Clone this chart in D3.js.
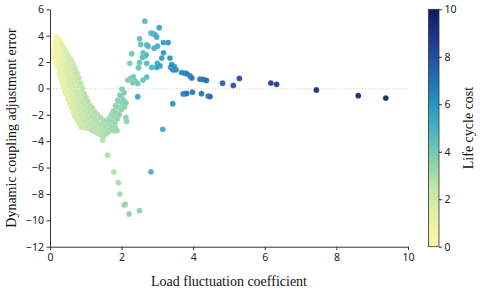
<!DOCTYPE html>
<html>
<head>
<meta charset="utf-8">
<script src="https://cdn.jsdelivr.net/npm/d3@7"></script>
<style>
  body { margin: 0; background: #fff; }
  .tick text { font-family: "Noto Sans", sans-serif; font-size: 10.5px; fill: #222; }
  .domain, .tick line { stroke: #333; }
  .label { font-family: "Liberation Serif", "Times New Roman", serif; font-size: 14px; fill: #111; }
</style>
</head>
<body>
<script>
// x = load fluctuation coefficient, y = dynamic coupling adjustment error, c = life cycle cost
var vBand = [
  [0.10, 2.60, 0.6], [0.12, 2.25, 0.7], [0.11, 2.95, 0.6],
  [0.15, 3.60, 0.7], [0.14, 3.20, 0.6], [0.16, 2.80, 0.8], [0.15, 2.40, 0.7], [0.17, 1.95, 0.8],
  [0.19, 3.90, 0.7], [0.18, 3.40, 0.9], [0.20, 3.05, 0.8], [0.19, 2.55, 0.9], [0.21, 2.10, 0.8], [0.20, 1.70, 0.9],
  [0.23, 3.80, 0.8], [0.24, 3.50, 1.0], [0.22, 3.15, 0.9], [0.25, 2.70, 1.1], [0.23, 2.25, 0.9], [0.24, 1.60, 1.0],
  [0.27, 3.65, 1.0], [0.28, 3.30, 1.2], [0.26, 2.90, 1.0], [0.29, 2.40, 1.1], [0.27, 1.90, 1.0], [0.28, 1.35, 1.1],
  [0.31, 3.45, 1.2], [0.30, 3.00, 1.1], [0.32, 2.60, 1.3], [0.31, 2.10, 1.1], [0.30, 1.60, 1.2], [0.32, 1.10, 1.1],
  [0.35, 3.25, 1.4], [0.36, 2.80, 1.3], [0.34, 2.30, 1.2], [0.37, 1.80, 1.4], [0.35, 1.25, 1.2], [0.36, 0.80, 1.3],
  [0.39, 3.05, 1.6], [0.40, 2.55, 1.5], [0.38, 2.00, 1.3], [0.41, 1.50, 1.5], [0.39, 1.00, 1.3], [0.40, 0.55, 1.4],
  [0.43, 2.85, 1.8], [0.44, 2.40, 1.6], [0.42, 1.80, 1.5], [0.45, 1.30, 1.7], [0.43, 0.70, 1.4], [0.44, 0.30, 1.5],
  [0.47, 2.65, 1.9], [0.48, 2.10, 1.8], [0.46, 1.60, 1.6], [0.49, 1.00, 1.7], [0.47, 0.45, 1.5], [0.48, 0.05, 1.6],
  [0.51, 2.45, 2.0], [0.52, 1.90, 1.9], [0.50, 1.30, 1.7], [0.53, 0.70, 1.8], [0.51, 0.20, 1.6], [0.52, -0.25, 1.7],
  [0.56, 2.25, 2.1], [0.57, 1.65, 2.0], [0.55, 1.00, 1.8], [0.58, 0.40, 1.9], [0.56, -0.20, 1.7], [0.57, -0.60, 1.8],
  [0.61, 2.05, 2.2], [0.62, 1.40, 2.1], [0.60, 0.70, 1.9], [0.63, 0.10, 2.0], [0.61, -0.50, 1.8], [0.62, -0.95, 1.9],
  [0.66, 1.75, 2.3], [0.67, 1.10, 2.2], [0.65, 0.40, 2.0], [0.68, -0.20, 2.1], [0.66, -0.80, 1.9], [0.67, -1.25, 2.0],
  [0.71, 1.45, 2.4], [0.72, 0.80, 2.3], [0.70, 0.10, 2.1], [0.73, -0.50, 2.2], [0.71, -1.10, 2.0], [0.72, -1.55, 2.1],
  [0.76, 1.15, 2.5], [0.77, 0.50, 2.3], [0.75, -0.20, 2.2], [0.78, -0.80, 2.3], [0.76, -1.40, 2.1], [0.77, -1.85, 2.2],
  [0.81, 0.80, 2.5], [0.82, 0.20, 2.4], [0.80, -0.50, 2.3], [0.83, -1.10, 2.4], [0.81, -1.70, 2.2], [0.82, -2.10, 2.3],
  [0.86, 0.40, 2.6], [0.87, -0.20, 2.5], [0.85, -0.80, 2.4], [0.88, -1.40, 2.3], [0.86, -2.00, 2.3], [0.87, -2.40, 2.4],
  [0.91, 0.00, 2.6], [0.92, -0.50, 2.5], [0.90, -1.10, 2.4], [0.93, -1.70, 2.4], [0.91, -2.30, 2.3], [0.92, -2.60, 2.4],
  [0.96, -0.40, 2.6], [0.97, -0.90, 2.6], [0.95, -1.40, 2.5], [0.98, -2.00, 2.4], [0.96, -2.50, 2.4], [0.97, -2.80, 2.5],
  [1.01, -0.70, 2.7], [1.02, -1.20, 2.6], [1.00, -1.70, 2.5], [1.03, -2.20, 2.5], [1.01, -2.70, 2.4], [1.02, -3.00, 2.5],
  [1.07, -1.00, 2.7], [1.06, -1.50, 2.6], [1.08, -2.00, 2.6], [1.06, -2.50, 2.5], [1.07, -2.90, 2.6],
  [1.13, -1.30, 2.8], [1.12, -1.80, 2.7], [1.14, -2.30, 2.6], [1.12, -2.70, 2.6], [1.13, -3.10, 2.6],
  [1.19, -1.50, 2.8], [1.18, -2.10, 2.7], [1.20, -2.60, 2.7], [1.18, -2.90, 2.6], [1.19, -3.20, 2.7],
  [1.26, -1.80, 2.9], [1.25, -2.30, 2.8], [1.27, -2.70, 2.7], [1.25, -3.00, 2.7], [1.26, -3.30, 2.7],
  [1.33, -2.00, 2.9], [1.32, -2.50, 2.8], [1.34, -2.90, 2.8], [1.32, -3.20, 2.7], [1.33, -3.40, 2.8],
  [1.41, -2.20, 3.0], [1.40, -2.70, 2.9], [1.42, -3.00, 2.8], [1.40, -3.30, 2.8], [1.41, -3.50, 2.8],
  [1.49, -2.40, 3.1], [1.48, -2.80, 3.0], [1.50, -3.10, 2.9], [1.48, -3.40, 2.9], [1.49, -3.65, 2.9],
  [1.57, -2.50, 3.2], [1.56, -2.90, 3.1], [1.58, -3.20, 3.0], [1.56, -3.45, 3.0],
  [1.64, -2.30, 3.3], [1.63, -2.70, 3.2], [1.65, -3.00, 3.1], [1.63, -3.30, 3.1],
  [1.71, -2.00, 3.4], [1.70, -2.40, 3.3], [1.72, -2.80, 3.2], [1.70, -3.10, 3.2],
  [1.77, -1.70, 3.5], [1.76, -2.10, 3.4], [1.78, -2.50, 3.3], [1.76, -2.90, 3.3], [1.77, -3.20, 3.2],
  [1.83, -1.30, 3.6], [1.82, -1.80, 3.5], [1.84, -2.20, 3.4], [1.82, -2.60, 3.3], [1.83, -3.00, 3.3],
  [1.89, -0.90, 3.7], [1.88, -1.40, 3.6], [1.90, -1.90, 3.5], [1.88, -2.30, 3.4], [1.87, -3.20, 3.3],
  [1.95, -0.50, 3.8], [1.94, -1.00, 3.7], [1.96, -1.50, 3.6], [1.94, -2.00, 3.5],
  [2.01, -0.05, 3.9], [2.00, -0.60, 3.8], [2.02, -1.10, 3.7], [2.00, -1.60, 3.6],
  [2.07, -0.30, 3.9], [2.06, -0.90, 3.8], [2.08, -1.40, 3.7],
  [2.12, -1.10, 3.8], [2.12, -2.20, 3.6], [2.14, -2.50, 3.6],
  // lower-left edge of the band
  [0.25, 1.15, 0.9], [0.29, 0.85, 1.0], [0.33, 0.45, 1.1], [0.37, 0.10, 1.2],
  [0.41, -0.15, 1.3], [0.45, -0.45, 1.4], [0.50, -0.80, 1.5], [0.55, -1.15, 1.6],
  [0.60, -1.45, 1.7], [0.65, -1.80, 1.8], [0.70, -2.10, 1.9], [0.76, -2.40, 2.0],
  [0.82, -2.70, 2.1], [0.88, -2.95, 2.2]
];

var dropPoints = [
  [1.47, -3.92, 2.7], [1.61, -5.06, 2.8], [1.78, -6.32, 2.9], [1.91, -7.15, 3.0],
  [1.95, -8.00, 3.1], [2.07, -8.84, 3.3], [2.10, -8.78, 3.3], [2.21, -9.52, 3.5],
  [2.50, -9.27, 3.6], [2.82, -6.32, 5.2]
];

var midPoints = [
  [2.17, 0.63, 3.9], [2.26, 0.78, 4.0], [2.33, 0.88, 4.1], [2.38, 0.56, 4.1],
  [2.45, 0.38, 4.2], [2.31, 0.43, 4.0], [2.70, 0.86, 4.7], [2.60, 0.63, 4.5],
  [2.45, -0.63, 5.6], [3.43, -1.16, 6.1], [3.15, -3.10, 5.4]
];

var upperCluster = [
  [2.65, 5.10, 4.7], [3.05, 4.60, 5.6], [2.82, 4.20, 5.0], [2.88, 4.15, 5.1],
  [2.94, 4.05, 5.2], [2.50, 3.76, 4.5], [2.98, 3.90, 5.3], [2.53, 3.33, 4.4],
  [2.70, 3.30, 4.8], [2.74, 3.20, 4.9], [3.00, 3.20, 5.4], [2.91, 3.05, 5.2],
  [3.17, 3.48, 5.8], [3.30, 3.48, 6.0], [2.28, 2.63, 4.1], [2.60, 2.70, 4.5],
  [2.65, 2.45, 4.6], [2.58, 2.35, 4.5], [2.69, 2.55, 4.7], [3.17, 2.70, 5.9],
  [3.12, 2.30, 5.8], [3.35, 2.30, 6.1], [2.50, 1.95, 4.4], [2.70, 1.90, 4.8],
  [3.00, 1.90, 5.6], [3.07, 1.70, 5.8], [2.98, 1.60, 5.7], [2.84, 1.60, 5.0],
  [2.23, 1.90, 4.0], [2.47, 1.57, 4.3]
];

var tail = [
  [3.37, 1.60, 6.3], [3.42, 1.45, 6.4], [3.45, 1.40, 6.4], [3.52, 1.42, 6.5],
  [3.47, 1.65, 6.4], [3.40, 1.80, 6.3],
  [3.68, 1.20, 6.7], [3.77, 1.15, 6.8], [3.83, 1.10, 6.8], [3.91, 0.95, 6.9], [3.96, 0.80, 7.0],
  [4.19, 0.70, 7.2], [4.28, 0.68, 7.3], [4.37, 0.60, 7.3],
  [3.72, -0.42, 6.8], [3.77, -0.40, 6.8], [3.82, -0.38, 6.9], [3.98, -0.28, 7.0],
  [4.23, -0.40, 7.2], [4.42, -0.58, 7.3], [4.47, -0.62, 7.4],
  [4.82, 0.40, 7.8], [5.12, 0.23, 8.1], [5.29, 0.76, 8.2],
  [6.17, 0.41, 8.9], [6.33, 0.31, 9.0], [7.44, -0.12, 9.4], [8.61, -0.55, 9.8], [9.38, -0.73, 9.9]
];

var xTicks = [0, 2, 4, 6, 8, 10];
var yTicks = [-12, -10, -8, -6, -4, -2, 0, 2, 4, 6];
var costTicks = [0, 2, 4, 6, 8, 10];

// yellow-green-blue stops as they appear in the picture
var paletteStops = ["#fbf6a4", "#e6f1a4", "#c2e4a6", "#80cdb0", "#44b3c2",
                    "#1f8fc0", "#2261a8", "#253494", "#0b1d5a"];

var W = 480, H = 291;
var plotL = 50, plotR = 408, plotT = 9.3, plotB = 246.7;

var palette = d3.piecewise(d3.interpolateRgb, paletteStops);
var x = d3.scaleLinear().domain([0, 10]).range([plotL, plotR]);
var y = d3.scaleLinear().domain([-12, 6]).range([plotB, plotT]);
var color = d3.scaleSequential(palette).domain([0, 10]);

var svg = d3.select("body").append("svg")
  .attr("width", W)
  .attr("height", H);

// zero reference line
svg.append("line")
  .attr("x1", x(0)).attr("x2", x(10))
  .attr("y1", y(0)).attr("y2", y(0))
  .attr("stroke", "#c8c8c8")
  .attr("stroke-width", 0.8)
  .attr("stroke-dasharray", "1,2");

var allPoints = vBand.concat(dropPoints, midPoints, upperCluster, tail);

svg.append("g").selectAll("circle")
  .data(allPoints)
  .enter().append("circle")
    .attr("cx", function(d) { return x(d[0]); })
    .attr("cy", function(d) { return y(d[1]); })
    .attr("r", 2.9)
    .attr("fill", function(d) { return color(d[2]); })
    .attr("fill-opacity", 0.92)
    .attr("stroke", "#fff")
    .attr("stroke-opacity", 0.5)
    .attr("stroke-width", 0.3);

// axes, left and bottom spines only
svg.append("g")
  .attr("transform", "translate(0," + plotB + ")")
  .call(d3.axisBottom(x).tickValues(xTicks).tickSize(3.5).tickPadding(3).tickSizeOuter(0));

svg.append("g")
  .attr("transform", "translate(" + plotL + ",0)")
  .call(d3.axisLeft(y).tickValues(yTicks).tickSize(3.5).tickPadding(2.5).tickSizeOuter(0)
    .tickFormat(function(d) { return d < 0 ? "\u2212" + Math.abs(d) : d; }));

// colorbar
var cbLeft = 428.5, cbWidth = 10.5;
var grad = svg.append("defs").append("linearGradient")
  .attr("id", "cbar")
  .attr("x1", 0).attr("y1", 1).attr("x2", 0).attr("y2", 0);
grad.selectAll("stop")
  .data(d3.range(0, 1.0001, 0.05))
  .enter().append("stop")
    .attr("offset", function(d) { return d; })
    .attr("stop-color", function(d) { return palette(d); });

svg.append("rect")
  .attr("x", cbLeft).attr("y", plotT)
  .attr("width", cbWidth).attr("height", plotB - plotT)
  .attr("fill", "url(#cbar)")
  .attr("stroke", "#333")
  .attr("stroke-width", 0.8);

var c = d3.scaleLinear().domain([0, 10]).range([plotB, plotT]);
svg.append("g")
  .attr("transform", "translate(" + (cbLeft + cbWidth) + ",0)")
  .call(d3.axisRight(c).tickValues(costTicks).tickSize(3).tickPadding(2.5))
  .select(".domain").remove();

// labels
svg.append("text")
  .attr("class", "label")
  .attr("x", (plotL + plotR) / 2)
  .attr("y", 286)
  .style("text-anchor", "middle")
  .text("Load fluctuation coefficient");

svg.append("text")
  .attr("class", "label")
  .attr("transform", "translate(16," + ((plotT + plotB) / 2) + ") rotate(-90)")
  .style("text-anchor", "middle")
  .text("Dynamic coupling adjustment error");

svg.append("text")
  .attr("class", "label")
  .attr("transform", "translate(473," + ((plotT + plotB) / 2) + ") rotate(-90)")
  .style("text-anchor", "middle")
  .text("Life cycle cost");
</script>
</body>
</html>
